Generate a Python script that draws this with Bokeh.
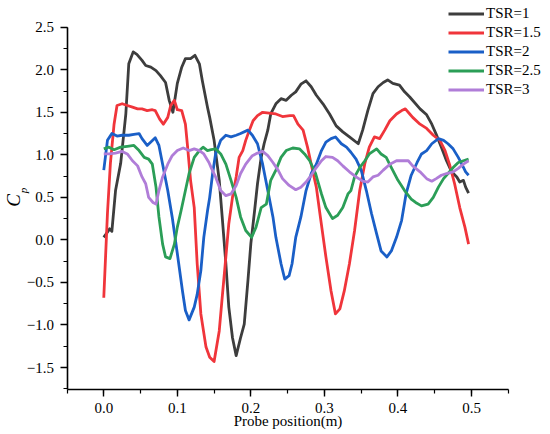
import math
from bokeh.plotting import figure
from bokeh.models import (Range1d, SingleIntervalTicker, CustomJSTickFormatter,
                          Legend, LegendItem, Label)
from bokeh.embed import file_html
from bokeh.resources import INLINE

# ---------------- data ----------------
series_names = ["TSR=1", "TSR=1.5", "TSR=2", "TSR=2.5", "TSR=3"]
series_colors = ["#3d3d3d", "#f0353b", "#1a5fc7", "#2b9e57", "#b07dd8"]

x_tsr1 = [0.000, 0.008, 0.011, 0.016, 0.023, 0.030, 0.034, 0.040, 0.045, 0.052,
          0.057, 0.064, 0.071, 0.077, 0.084, 0.089, 0.094, 0.100, 0.106, 0.111,
          0.118, 0.124, 0.130, 0.134, 0.141, 0.144, 0.150, 0.157, 0.161, 0.166,
          0.170, 0.175, 0.180, 0.186, 0.191, 0.196, 0.200, 0.205, 0.209, 0.214,
          0.218, 0.223, 0.227, 0.234, 0.241, 0.248, 0.255, 0.261, 0.268, 0.275,
          0.282, 0.289, 0.298, 0.307, 0.316, 0.325, 0.334, 0.346, 0.352, 0.359,
          0.366, 0.373, 0.380, 0.386, 0.393, 0.402, 0.409, 0.416, 0.430, 0.439,
          0.446, 0.452, 0.459, 0.466, 0.473, 0.480, 0.484, 0.489, 0.492, 0.496]
cp_tsr1 = [0.03, 0.13, 0.10, 0.58, 0.90, 1.48, 2.07, 2.21, 2.18, 2.11,
           2.05, 2.03, 1.99, 1.93, 1.85, 1.64, 1.50, 1.84, 2.03, 2.13,
           2.13, 2.17, 2.07, 1.87, 1.56, 1.44, 1.17, 0.70, 0.27, -0.28,
           -0.79, -1.15, -1.36, -1.15, -0.99, -0.48, -0.04, 0.34, 0.66, 0.97,
           1.13, 1.29, 1.48, 1.60, 1.66, 1.64, 1.70, 1.74, 1.83, 1.87,
           1.80, 1.70, 1.60, 1.48, 1.34, 1.27, 1.21, 1.13, 1.29, 1.52,
           1.72, 1.80, 1.85, 1.88, 1.84, 1.82, 1.74, 1.68, 1.54, 1.47,
           1.36, 1.24, 1.09, 0.93, 0.80, 0.74, 0.68, 0.70, 0.62, 0.55]

x_tsr15 = [0.000, 0.005, 0.009, 0.014, 0.018, 0.025, 0.032, 0.039, 0.046, 0.052,
           0.059, 0.066, 0.070, 0.076, 0.081, 0.087, 0.091, 0.096, 0.100, 0.106,
           0.111, 0.114, 0.118, 0.123, 0.127, 0.132, 0.139, 0.144, 0.150, 0.157,
           0.161, 0.166, 0.170, 0.175, 0.180, 0.184, 0.189, 0.193, 0.198, 0.203,
           0.209, 0.216, 0.225, 0.234, 0.243, 0.253, 0.258, 0.264, 0.271, 0.277,
           0.283, 0.289, 0.294, 0.302, 0.309, 0.315, 0.321, 0.327, 0.334, 0.341,
           0.348, 0.355, 0.361, 0.368, 0.375, 0.382, 0.389, 0.398, 0.405, 0.410,
           0.416, 0.420, 0.430, 0.439, 0.448, 0.457, 0.464, 0.470, 0.477, 0.484,
           0.491, 0.496]
cp_tsr15 = [-0.68, 0.31, 0.90, 1.36, 1.58, 1.60, 1.58, 1.56, 1.54, 1.54,
            1.52, 1.53, 1.52, 1.42, 1.36, 1.44, 1.58, 1.64, 1.53, 1.52,
            1.36, 1.09, 0.70, 0.38, -0.28, -0.87, -1.26, -1.38, -1.43, -1.07,
            -0.68, -0.20, 0.19, 0.50, 0.74, 0.97, 1.05, 1.17, 1.29, 1.40,
            1.46, 1.50, 1.49, 1.48, 1.45, 1.46, 1.46, 1.36, 1.29, 1.09,
            0.85, 0.62, 0.30, -0.20, -0.60, -0.87, -0.81, -0.60, -0.28, 0.11,
            0.58, 0.90, 1.09, 1.21, 1.19, 1.29, 1.40, 1.48, 1.52, 1.54,
            1.48, 1.44, 1.36, 1.31, 1.23, 1.17, 1.05, 0.89, 0.66, 0.38,
            0.15, -0.05]

x_tsr2 = [0.000, 0.005, 0.011, 0.018, 0.025, 0.034, 0.041, 0.048, 0.052, 0.059,
          0.064, 0.070, 0.075, 0.080, 0.087, 0.093, 0.100, 0.107, 0.111, 0.116,
          0.123, 0.127, 0.132, 0.136, 0.141, 0.144, 0.148, 0.152, 0.159, 0.166,
          0.173, 0.180, 0.186, 0.196, 0.202, 0.209, 0.216, 0.223, 0.230, 0.234,
          0.241, 0.246, 0.252, 0.256, 0.261, 0.268, 0.275, 0.282, 0.289, 0.296,
          0.302, 0.309, 0.315, 0.323, 0.330, 0.336, 0.343, 0.350, 0.357, 0.364,
          0.371, 0.377, 0.385, 0.391, 0.398, 0.405, 0.411, 0.418, 0.426, 0.432,
          0.439, 0.446, 0.455, 0.462, 0.468, 0.475, 0.482, 0.488, 0.492, 0.496]
cp_tsr2 = [0.82, 1.17, 1.25, 1.22, 1.23, 1.23, 1.24, 1.25, 1.19, 1.11,
           1.15, 1.20, 1.11, 0.89, 0.58, 0.27, -0.16, -0.60, -0.83, -0.94,
           -0.79, -0.64, -0.36, 0.03, 0.34, 0.50, 0.78, 1.01, 1.17, 1.23,
           1.21, 1.23, 1.25, 1.29, 1.23, 1.13, 0.89, 0.58, 0.27, 0.03,
           -0.28, -0.46, -0.42, -0.28, 0.03, 0.27, 0.58, 0.78, 0.89, 1.05,
           1.15, 1.19, 1.21, 1.13, 1.09, 1.03, 0.95, 0.82, 0.58, 0.31,
           0.07, -0.13, -0.20, -0.13, 0.03, 0.23, 0.54, 0.76, 0.91, 1.01,
           1.05, 1.13, 1.19, 1.17, 1.13, 1.07, 0.97, 0.87, 0.80, 0.76]

x_tsr25 = [0.000, 0.007, 0.014, 0.023, 0.032, 0.041, 0.048, 0.055, 0.061, 0.066,
           0.071, 0.075, 0.080, 0.084, 0.090, 0.096, 0.100, 0.105, 0.111, 0.116,
           0.123, 0.130, 0.135, 0.141, 0.146, 0.152, 0.159, 0.166, 0.173, 0.180,
           0.186, 0.193, 0.201, 0.207, 0.214, 0.221, 0.227, 0.234, 0.241, 0.248,
           0.257, 0.266, 0.273, 0.280, 0.288, 0.296, 0.302, 0.311, 0.318, 0.325,
           0.332, 0.336, 0.341, 0.348, 0.355, 0.361, 0.371, 0.377, 0.384, 0.391,
           0.400, 0.409, 0.418, 0.424, 0.432, 0.441, 0.448, 0.455, 0.462, 0.468,
           0.475, 0.482, 0.489, 0.496]
cp_tsr25 = [1.07, 1.09, 1.06, 1.09, 1.10, 1.11, 1.05, 0.97, 0.95, 0.89,
            0.62, 0.27, -0.05, -0.20, -0.22, -0.05, 0.15, 0.34, 0.58, 0.78,
            0.97, 1.05, 1.09, 1.05, 1.06, 1.07, 1.01, 0.89, 0.70, 0.50,
            0.27, 0.11, 0.03, 0.15, 0.38, 0.42, 0.70, 0.82, 0.97, 1.05,
            1.08, 1.07, 1.01, 0.93, 0.78, 0.54, 0.38, 0.25, 0.29, 0.38,
            0.54, 0.58, 0.74, 0.85, 0.93, 1.01, 1.07, 1.01, 0.97, 0.85,
            0.70, 0.58, 0.48, 0.44, 0.40, 0.42, 0.50, 0.62, 0.72, 0.78,
            0.85, 0.91, 0.93, 0.95]

x_tsr3 = [0.000, 0.007, 0.016, 0.025, 0.032, 0.039, 0.046, 0.052, 0.057, 0.061,
          0.067, 0.071, 0.075, 0.080, 0.087, 0.093, 0.100, 0.108, 0.116, 0.123,
          0.130, 0.136, 0.143, 0.146, 0.152, 0.159, 0.166, 0.173, 0.180, 0.186,
          0.193, 0.202, 0.209, 0.216, 0.223, 0.230, 0.237, 0.243, 0.252, 0.261,
          0.268, 0.275, 0.282, 0.289, 0.296, 0.302, 0.311, 0.318, 0.325, 0.334,
          0.343, 0.352, 0.359, 0.366, 0.373, 0.380, 0.389, 0.398, 0.407, 0.414,
          0.420, 0.430, 0.439, 0.446, 0.452, 0.459, 0.466, 0.475, 0.482, 0.489,
          0.496]
cp_tsr3 = [1.01, 1.01, 1.02, 1.04, 1.01, 0.93, 0.87, 0.74, 0.66, 0.50,
           0.44, 0.42, 0.58, 0.74, 0.89, 0.99, 1.05, 1.08, 1.05, 1.07,
           1.05, 1.01, 0.91, 0.85, 0.74, 0.58, 0.52, 0.54, 0.64, 0.78,
           0.89, 0.99, 1.02, 1.04, 0.99, 0.91, 0.82, 0.72, 0.64, 0.59,
           0.62, 0.68, 0.76, 0.85, 0.93, 0.98, 0.97, 0.93, 0.87, 0.80,
           0.74, 0.69, 0.68, 0.74, 0.76, 0.82, 0.89, 0.93, 0.93, 0.93,
           0.87, 0.80, 0.72, 0.69, 0.72, 0.76, 0.78, 0.80, 0.84, 0.89,
           0.93]

x_axis_span = (-0.05, 0.55)
y_axis_span = (-1.762, 2.5)
x_ticks_interval = 0.1
y_ticks_interval = 0.5
x_label = "Probe position(m)"
y_label_main = "C"
y_label_sub = "p"

# ---------------- figure ----------------
SERIF = "Liberation Serif"
W, H = 550, 434
# pixel geometry of the axes box inside the canvas
AX_L, AX_R, AX_T, AX_B = 66.5, 507.8, 26.7, 389.3

# the frame fills the whole canvas (so the legend and labels are not clipped);
# the axes are drawn at fixed positions and bounded to the data box
sx = (AX_R - AX_L) / (x_axis_span[1] - x_axis_span[0])
sy = (AX_B - AX_T) / (y_axis_span[1] - y_axis_span[0])
x_range = Range1d(x_axis_span[0] - AX_L / sx, x_axis_span[1] + (W - AX_R) / sx)
y_range = Range1d(y_axis_span[0] - (H - AX_B) / sy, y_axis_span[1] + AX_T / sy)

p = figure(width=W, height=H, output_backend="svg", toolbar_location=None,
           title=None, x_range=x_range, y_range=y_range,
           min_border_left=0, min_border_right=0, min_border_top=0,
           min_border_bottom=0)
p.outline_line_color = None
p.background_fill_color = "white"
p.border_fill_color = "white"
p.xgrid.visible = False
p.ygrid.visible = False

fmt = CustomJSTickFormatter(code="return tick.toFixed(1).replace('-', '\u2212');")

for ax, iv in ((p.xaxis[0], x_ticks_interval), (p.yaxis[0], y_ticks_interval)):
    ax.ticker = SingleIntervalTicker(interval=iv, num_minor_ticks=2)
    ax.formatter = fmt
    ax.axis_line_color = "black"
    ax.axis_line_width = 1.6
    ax.major_tick_line_color = "black"
    ax.major_tick_line_width = 1.4
    ax.minor_tick_line_color = "black"
    ax.minor_tick_line_width = 1.2
    ax.major_tick_in = 0
    ax.major_tick_out = 7
    ax.minor_tick_in = 0
    ax.minor_tick_out = 4
    ax.major_label_text_font = SERIF
    ax.major_label_text_font_size = "15px"
    ax.major_label_text_color = "black"

p.xaxis.bounds = x_axis_span
p.yaxis.bounds = y_axis_span
p.xaxis.fixed_location = y_axis_span[0]
p.yaxis.fixed_location = x_axis_span[0]

p.xaxis.major_label_standoff = 6
p.yaxis.major_label_standoff = 6
p.xaxis.axis_label = x_label
p.xaxis.axis_label_text_font = SERIF
p.xaxis.axis_label_text_font_size = "15px"
p.xaxis.axis_label_text_font_style = "normal"
p.xaxis.axis_label_text_color = "black"
p.xaxis.axis_label_standoff = -3

xs = [x_tsr1, x_tsr15, x_tsr2, x_tsr25, x_tsr3]
ys = [cp_tsr1, cp_tsr15, cp_tsr2, cp_tsr25, cp_tsr3]
items = []
for name, color, xv, yv in zip(series_names, series_colors, xs, ys):
    r = p.line(xv, yv, line_color=color, line_width=2.8, line_join="round")
    items.append(LegendItem(label=name, renderers=[r]))

legend = Legend(items=items, location=(448, H - 99), orientation="vertical",
                glyph_width=36, glyph_height=19, label_height=19,
                label_standoff=2, spacing=0, padding=0, margin=0,
                label_text_font=SERIF, label_text_font_size="15px",
                label_text_color="black",
                border_line_alpha=0, background_fill_alpha=0)
p.add_layout(legend, "center")

p.add_layout(Label(x=12.5, y=H - 200, x_units="screen", y_units="screen",
                   text=y_label_main, angle=math.pi / 2, text_align="center",
                   text_baseline="middle", text_font=SERIF,
                   text_font_style="italic", text_font_size="19px",
                   text_color="black"))
p.add_layout(Label(x=22.5, y=H - 190, x_units="screen", y_units="screen",
                   text=y_label_sub, angle=math.pi / 2, text_align="center",
                   text_baseline="middle", text_font=SERIF,
                   text_font_style="italic", text_font_size="11px",
                   text_color="black"))

open("out.html", "w").write(file_html(p, INLINE))
